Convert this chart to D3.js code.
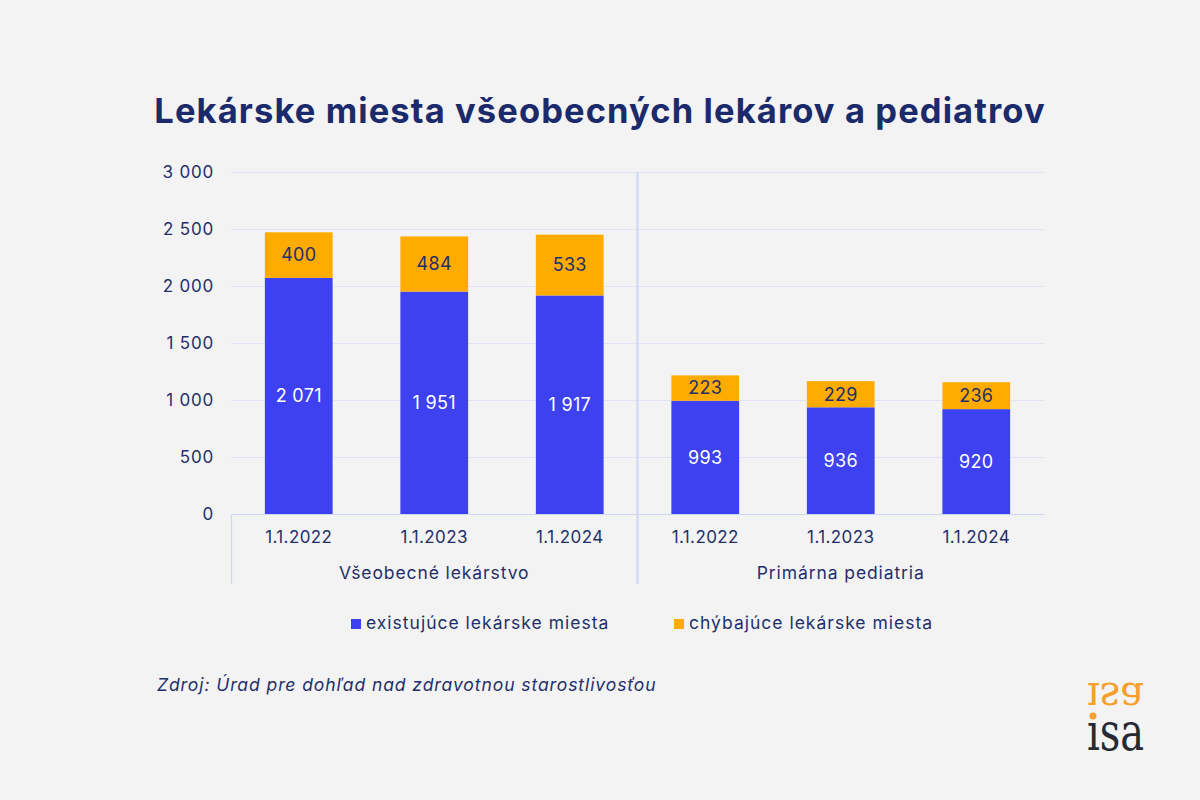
<!DOCTYPE html>
<html><head><meta charset="utf-8">
<script src="https://cdn.jsdelivr.net/npm/d3@7"></script>
<style>
html,body{margin:0;padding:0;background:#f3f3f3;}
svg{display:block;font-family:Inter, "Open Sans", sans-serif;}
</style></head>
<body>
<svg id="chart" width="1200" height="800"></svg>
<script>
const groups = ["Všeobecné lekárstvo", "Primárna pediatria"];
const dates = ["1.1.2022", "1.1.2023", "1.1.2024"];
const existing = [2071, 1951, 1917, 993, 936, 920];
const missing = [400, 484, 533, 223, 229, 236];
const yTicks = [0, 500, 1000, 1500, 2000, 2500, 3000];
const seriesNames = ["existujúce lekárske miesta", "chýbajúce lekárske miesta"];
const colors = ["#3d41ef", "#ffab00"];

(function(){
const navy = "#1f2f6b";
const svg = d3.select("#chart");
svg.append("rect").attr("width",1200).attr("height",800).attr("fill","#f3f3f3");

const pLeft = 231, pRight = 1044, pTop = 172, pBottom = 514;
const cats = [];
groups.forEach((g,gi)=>dates.forEach((d,di)=>cats.push({g, d, i: gi*3+di})));
const x = d3.scaleBand().domain(cats.map(c=>c.i)).range([pLeft,pRight]).paddingInner(0.5).paddingOuter(0.25);
const y = d3.scaleLinear().domain([0,3000]).range([pBottom,pTop]);
const fmt = d3.formatLocale({decimal:",", thousands:"\u00a0", grouping:[3], currency:["","€"]}).format(",d");

// title
svg.append("text").attr("x",600).attr("y",123).attr("text-anchor","middle")
  .attr("font-size",34.5).attr("font-weight",700).attr("fill","#1b2a6b").attr("letter-spacing","1.1")
  .text("Lekárske miesta všeobecných lekárov a pediatrov");

// grid
svg.append("g").selectAll("line").data(yTicks.filter(t=>t>0)).join("line")
  .attr("x1",pLeft).attr("x2",pRight).attr("y1",d=>y(d)+0.5).attr("y2",d=>y(d)+0.5)
  .attr("stroke","#dfe4f5").attr("stroke-width",1);

// y labels
svg.append("g").selectAll("text").data(yTicks).join("text")
  .attr("x",214).attr("y",d=>y(d)).attr("dy","0.35em").attr("text-anchor","end")
  .attr("font-size",17).attr("letter-spacing","0.8").attr("fill",navy).text(d=>fmt(d));

// bars
const stack = cats.map(c=>({c, v:[existing[c.i], missing[c.i]]}));
stack.forEach(s=>{
  let base = 0;
  s.v.forEach((v,k)=>{
    svg.append("rect").attr("x",x(s.c.i)).attr("width",x.bandwidth())
      .attr("y",y(base+v)).attr("height",y(base)-y(base+v)).attr("fill",colors[k]);
    svg.append("text").attr("x",x(s.c.i)+x.bandwidth()/2).attr("y",(y(base)+y(base+v))/2)
      .attr("dy","0.35em").attr("text-anchor","middle").attr("font-size",18).attr("letter-spacing","0.3")
      .attr("fill",k===0?"#ffffff":navy).text(fmt(v));
    base += v;
  });
});

// axis baseline
svg.append("line").attr("x1",pLeft).attr("x2",pRight).attr("y1",pBottom+0.5).attr("y2",pBottom+0.5)
  .attr("stroke","#cdd7f3").attr("stroke-width",1.2);
svg.append("line").attr("x1",pLeft+0.5).attr("x2",pLeft+0.5).attr("y1",pBottom).attr("y2",584)
  .attr("stroke","#cdd7f3").attr("stroke-width",1.2);
const sepX = x(3) - x.step()*x.paddingInner()/2;
svg.append("line").attr("x1",sepX).attr("x2",sepX).attr("y1",pTop).attr("y2",584)
  .attr("stroke","#d3dbf3").attr("stroke-width",2.5);

// x labels
svg.append("g").selectAll("text").data(cats).join("text")
  .attr("x",c=>x(c.i)+x.bandwidth()/2).attr("y",537).attr("dy","0.35em").attr("text-anchor","middle")
  .attr("font-size",17).attr("letter-spacing","0.4").attr("fill",navy).text(c=>c.d);
groups.forEach((g,gi)=>{
  const x0 = x(gi*3) - x.step()*0.25, x1 = x(gi*3+2)+x.bandwidth()+x.step()*0.25;
  svg.append("text").attr("x",(x0+x1)/2).attr("y",573).attr("dy","0.35em").attr("text-anchor","middle")
    .attr("font-size",17.5).attr("letter-spacing","0.9").attr("fill",navy).text(g);
});

// legend
const legX = [351, 674];
seriesNames.forEach((n,k)=>{
  svg.append("rect").attr("x",legX[k]).attr("y",619).attr("width",10).attr("height",10).attr("fill",colors[k]);
  svg.append("text").attr("x",legX[k]+15).attr("y",623).attr("dy","0.35em").attr("font-size",17.5)
    .attr("letter-spacing","1.0").attr("fill",navy).text(n);
});

// source
svg.append("text").attr("x",157).attr("y",685).attr("dy","0.35em").attr("font-size",17.5)
  .attr("letter-spacing","0.92").attr("font-style","italic").attr("fill",navy)
  .text("Zdroj: Úrad pre dohľad nad zdravotnou starostlivosťou");

// logo
const logo = svg.append("g").attr("font-family","'DejaVu Serif', 'Liberation Serif', serif").attr("font-size",40);
logo.append("text").attr("transform","translate(1087,750) scale(1,1.3)").attr("fill","#262a33").text("\u0131sa");
logo.append("text").attr("transform","translate(1087,683) scale(1,-1.05)").attr("fill","#f5a02a").text("\u0131sa");
logo.append("circle").attr("cx",1093).attr("cy",716).attr("r",3.5).attr("fill","#f5a02a");
})();
</script>
</body></html>
